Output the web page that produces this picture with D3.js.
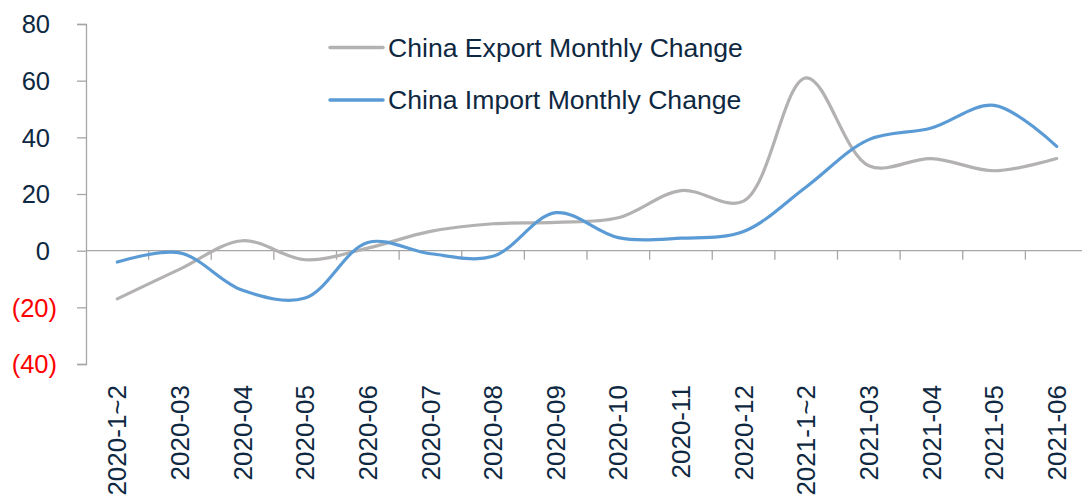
<!DOCTYPE html>
<html>
<head>
<meta charset="utf-8">
<script src="https://cdn.jsdelivr.net/npm/d3@7"></script>
<style>
  body { margin: 0; background: #fff; }
  svg { display: block; font-family: Arial, "Liberation Sans", sans-serif; }
</style>
</head>
<body>
<svg></svg>
<script>
var months = ["2020-1~2", "2020-03", "2020-04", "2020-05", "2020-06", "2020-07", "2020-08", "2020-09",
              "2020-10", "2020-11", "2020-12", "2021-1~2", "2021-03", "2021-04", "2021-05", "2021-06"];
var exportChange = [-17.0, -6.5, 3.5, -3.2, 0.9, 6.8, 9.5, 10.0, 11.6, 21.2, 17.5, 61.0, 30.0, 32.5, 28.2, 32.5];
var importChange = [-4.0, -0.8, -14.0, -16.7, 2.9, -1.1, -2.0, 13.4, 4.6, 4.4, 6.8, 22.5, 39.2, 43.3, 51.3, 36.8];
var yTicks = [80, 60, 40, 20, 0, -20, -40];
var seriesNames = ["China Export Monthly Change", "China Import Monthly Change"];
var seriesColors = ["#B4B1B1", "#5B9BD5"];

var width = 1082, height = 495;
var textColor = "#0E2841", axisColor = "#A6A6A6";

var svg = d3.select("svg")
    .attr("width", width)
    .attr("height", height);

var x = d3.scaleBand()
    .domain(months)
    .range([86, 1088]);

var y = d3.scaleLinear()
    .domain([-40, 80])
    .range([364, 24]);

// y axis
var yAxis = svg.append("g")
    .attr("transform", "translate(86,0)")
    .call(d3.axisLeft(y).tickValues(yTicks).tickSize(9).tickFormat(d => d < 0 ? "(" + Math.abs(d) + ")" : d));
yAxis.select(".domain").attr("stroke", axisColor).attr("stroke-width", 1.3);
yAxis.selectAll(".tick line").attr("stroke", axisColor).attr("stroke-width", 1.3);
yAxis.selectAll(".tick text")
    .attr("x", d => d < 0 ? -29 : -36)
    .attr("dy", "0.35em")
    .attr("font-size", 25.5)
    .attr("font-family", "Arial, 'Liberation Sans', sans-serif")
    .attr("fill", d => d < 0 ? "#FF0000" : textColor);

// x axis on the zero line
var xAxis = svg.append("g")
    .attr("transform", "translate(0," + y(0) + ")")
    .call(d3.axisBottom(x).tickSize(0).tickSizeOuter(0));
xAxis.select(".domain").attr("stroke", axisColor).attr("stroke-width", 1.3)
    .attr("d", "M86,0H" + width);
xAxis.selectAll(".tick text")
    .attr("transform", "rotate(-90)")
    .attr("text-anchor", "end")
    .attr("x", -(385 - y(0)))
    .attr("y", 0)
    .attr("dy", "0.35em")
    .attr("font-size", 26)
    .attr("font-family", "Arial, 'Liberation Sans', sans-serif")
    .attr("fill", textColor);

// tick marks between categories
svg.append("g")
  .selectAll("line")
  .data(months.slice(1))
  .enter()
  .append("line")
    .attr("x1", d => x(d))
    .attr("x2", d => x(d))
    .attr("y1", y(0))
    .attr("y2", y(0) + 9)
    .attr("stroke", axisColor)
    .attr("stroke-width", 1.3);

// lines
var line = d3.line()
    .x((d, i) => x(months[i]) + x.bandwidth() / 2)
    .y(d => y(d))
    .curve(d3.curveCatmullRom.alpha(0.5));

[exportChange, importChange].forEach(function(values, k) {
  svg.append("path")
      .datum(values)
      .attr("fill", "none")
      .attr("stroke", seriesColors[k])
      .attr("stroke-width", 3.2)
      .attr("stroke-linecap", "round")
      .attr("d", line);
});

// legend
var legend = svg.append("g")
  .selectAll("g")
  .data(seriesNames)
  .enter()
  .append("g")
    .attr("transform", (d, i) => "translate(330," + (47.5 + i * 52.5) + ")");
legend.append("line")
    .attr("x1", 0).attr("x2", 53)
    .attr("stroke", (d, i) => seriesColors[i])
    .attr("stroke-width", 3.5)
    .attr("stroke-linecap", "round");
legend.append("text")
    .attr("x", 58)
    .attr("dy", "0.35em")
    .attr("font-size", 26.6)
    .attr("fill", textColor)
    .text(d => d);
</script>
</body>
</html>
